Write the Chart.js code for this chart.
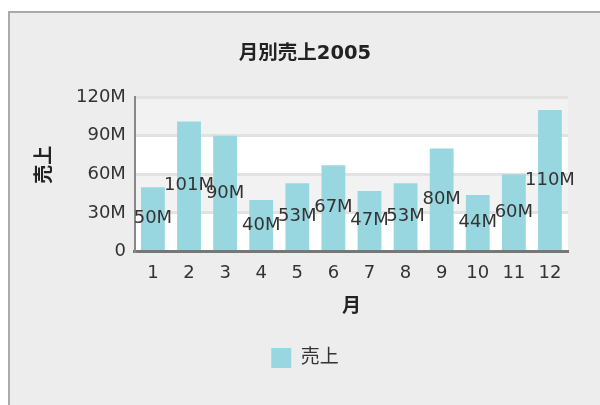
<!DOCTYPE html>
<html>
<head>
<meta charset="utf-8">
<script src="https://cdn.jsdelivr.net/npm/chart.js@4"></script>
<style>
    body {
        margin: 0;
        background: #ffffff;
        overflow: hidden;
    }

    #panel {
        position: absolute;
        left: 8px;
        top: 11px;
        width: 590px;
        height: 392px;
        border-left: 2px solid #ababab;
        border-top: 2px solid #ababab;
        background: #ededed;
    }
</style>
</head>
<body>
<div id="panel">
    <canvas id="chart" width="590" height="392"></canvas>
</div>

<script>
const months = ['1', '2', '3', '4', '5', '6', '7', '8', '9', '10', '11', '12'];
const sales = [50, 101, 90, 40, 53, 67, 47, 53, 80, 44, 60, 110];
const yTicks = [0, 30, 60, 90, 120];

const fontFamily = '"DejaVu Sans", "Noto Sans CJK JP", sans-serif';
const barColor = '#98d7e0';
const textColor = '#333333';

function formatSales(v) {
    return v === 0 ? '0' : v + 'M';
}

// alternating light bands behind the bars
const bandPlugin = {
    id: 'bands',
    beforeDraw(chart) {
        const ctx = chart.ctx;
        const area = chart.chartArea;
        const y = chart.scales.y;
        for (let i = 0; i < yTicks.length - 1; i++) {
            let top = y.getPixelForValue(yTicks[i + 1]);
            let bottom = y.getPixelForValue(yTicks[i]);
            ctx.fillStyle = i % 2 == 0 ? '#ffffff' : '#f2f2f2';
            ctx.fillRect(area.left, top, area.right - area.left, bottom - top);
        }
    }
};

// value text in the middle of each bar
const valueLabelPlugin = {
    id: 'valueLabels',
    afterDatasetsDraw(chart) {
        const ctx = chart.ctx;
        const bars = chart.getDatasetMeta(0).data;
        ctx.save();
        ctx.font = '18px ' + fontFamily;
        ctx.fillStyle = textColor;
        ctx.textAlign = 'center';
        ctx.textBaseline = 'middle';
        for (let i = 0; i < bars.length; i++) {
            let bar = bars[i];
            ctx.fillText(formatSales(sales[i]), bar.x, (bar.y + bar.base) / 2);
        }
        ctx.restore();
    }
};

new Chart(document.getElementById('chart'), {
    type: 'bar',
    data: {
        labels: months,
        datasets: [{
            label: '売上',
            data: sales,
            backgroundColor: barColor,
            borderWidth: 0,
            categoryPercentage: 1,
            barPercentage: 0.66
        }]
    },
    options: {
        responsive: false,
        animation: false,
        layout: {
            padding: { left: 0, right: 0, top: 0, bottom: 27 }
        },
        plugins: {
            title: {
                display: true,
                text: '月別売上2005',
                color: '#222222',
                font: { family: fontFamily, size: 19.5, weight: 'bold' },
                padding: { top: 29, bottom: 31.6 }
            },
            legend: {
                position: 'bottom',
                labels: {
                    color: textColor,
                    boxWidth: 20,
                    boxHeight: 20,
                    padding: 10,
                    font: { family: fontFamily, size: 19 }
                }
            },
            tooltip: { enabled: false }
        },
        scales: {
            x: {
                grid: { display: false, drawTicks: false },
                border: { display: true, color: '#777777', width: 3 },
                ticks: {
                    color: textColor,
                    padding: 11,
                    font: { family: fontFamily, size: 18 }
                },
                title: {
                    display: true,
                    text: '月',
                    color: '#222222',
                    font: { family: fontFamily, size: 19, weight: 'bold' },
                    padding: { top: 0, bottom: 20 }
                }
            },
            y: {
                min: 0,
                max: 120,
                afterBuildTicks: (scale) => {
                    scale.ticks = yTicks.map(v => ({ value: v }));
                },
                grid: { color: '#e2e2e2', lineWidth: 3, drawTicks: false },
                border: { display: true, color: '#888888', width: 2 },
                ticks: {
                    color: textColor,
                    padding: 9,
                    font: { family: fontFamily, size: 18 },
                    callback: (v) => formatSales(v)
                },
                title: {
                    display: true,
                    // leading full-width space lifts the title a little above the axis middle
                    text: '\u3000売上',
                    color: '#222222',
                    font: { family: fontFamily, size: 19, weight: 'bold' },
                    padding: { top: 23.6, bottom: 10.6 }
                }
            },
            // empty right-hand axis that keeps the plot clear of the right edge
            y2: {
                position: 'right',
                grid: { display: false, drawTicks: false },
                border: { display: false },
                ticks: { display: false },
                afterFit: (scale) => {
                    scale.width = 32;
                }
            }
        }
    },
    plugins: [bandPlugin, valueLabelPlugin]
});
</script>
</body>
</html>
